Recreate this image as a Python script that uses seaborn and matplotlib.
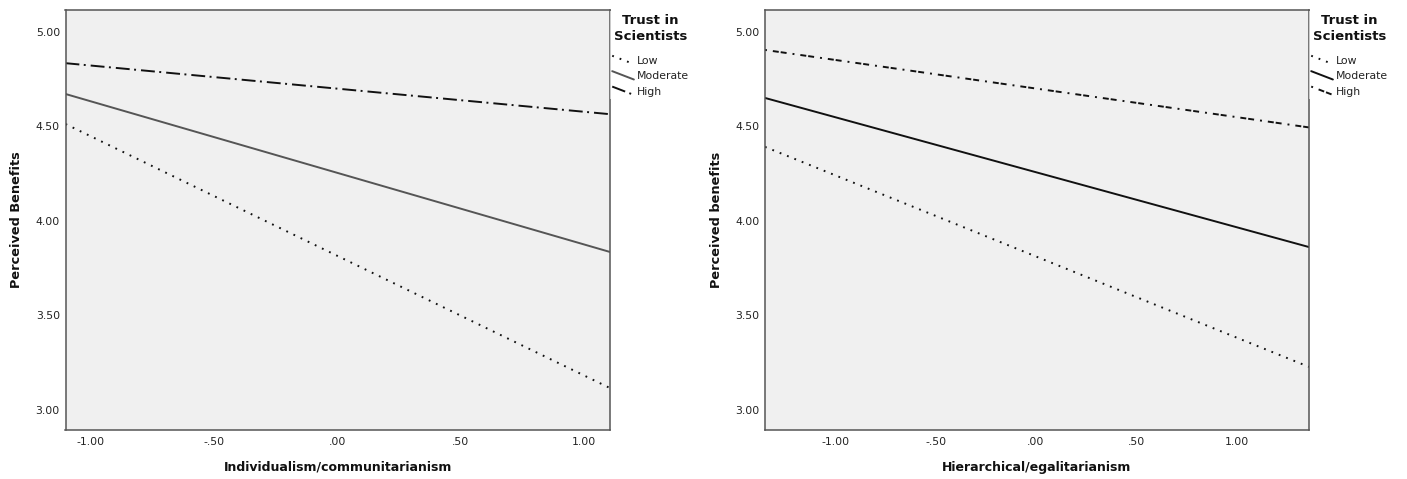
import matplotlib
matplotlib.use("Agg")
import matplotlib.pyplot as plt
from matplotlib.legend_handler import HandlerBase
from matplotlib.lines import Line2D
import seaborn as sns
import pandas as pd

# ---- data ----
groups = ["Low", "Moderate", "High"]

left_x = [-1.10, 1.105]
left_low = [4.513, 3.116]
left_moderate = [4.672, 3.836]
left_high = [4.835, 4.565]

right_x = [-1.35, 1.36]
right_low = [4.392, 3.228]
right_moderate = [4.651, 3.862]
right_high = [4.905, 4.495]

x_ticks = [-1.0, -0.5, 0.0, 0.5, 1.0]
x_tick_labels = ["-1.00", "-.50", ".00", ".50", "1.00"]
y_ticks = [3.0, 3.5, 4.0, 4.5, 5.0]
y_tick_labels = ["3.00", "3.50", "4.00", "4.50", "5.00"]

left_xlabel = "Individualism/communitarianism"
left_ylabel = "Perceived Benefits"
right_xlabel = "Hierarchical/egalitarianism"
right_ylabel = "Perceived benefits"
legend_title = "Trust in\nScientists"


def make_df(xs, low, mod, high):
    rows = []
    for g, ys in zip(groups, [low, mod, high]):
        for x, y in zip(xs, ys):
            rows.append({"x": x, "y": y, "Trust": g})
    return pd.DataFrame(rows)


df_left = make_df(left_x, left_low, left_moderate, left_high)
df_right = make_df(right_x, right_low, right_moderate, right_high)

sns.set_style("white")
plt.rcParams["font.family"] = ["DejaVu Sans"]
plt.rcParams["lines.scale_dashes"] = False

fig = plt.figure(figsize=(14.07, 4.79), dpi=100)
W, H = 1407.0, 479.0
ax1 = fig.add_axes([65.5 / W, 49 / H, 544.5 / W, 420.5 / H])
ax2 = fig.add_axes([765 / W, 49 / H, 544 / W, 420.5 / H])

dots = (1.3, 4.4)
left_dashes = {"Low": dots, "Moderate": "", "High": (10.0, 3.2, 1.4, 3.6)}
right_dashes = {"Low": dots, "Moderate": "", "High": (1.4, 4.3, 4.3, 1.4, 4.3, 4.3)}
left_pal = {"Low": "#111111", "Moderate": "#555555", "High": "#111111"}
right_pal = {"Low": "#111111", "Moderate": "#111111", "High": "#111111"}

for ax, df, dashes, pal, xs, xl, yl, ylc in [
    (ax1, df_left, left_dashes, left_pal, left_x, left_xlabel, left_ylabel, -0.078),
    (ax2, df_right, right_dashes, right_pal, right_x, right_xlabel, right_ylabel, -0.077),
]:
    sns.lineplot(data=df, x="x", y="y", hue="Trust", style="Trust",
                 hue_order=groups, style_order=groups, palette=pal,
                 dashes=dashes, linewidth=1.4, legend=False, ax=ax)
    ax.set_xlim(xs[0], xs[1])
    ax.set_ylim(2.894, 5.119)
    ax.set_facecolor("#f0f0f0")
    ax.set_xticks(x_ticks)
    ax.set_xticklabels(x_tick_labels)
    ax.set_yticks(y_ticks)
    ax.set_yticklabels(y_tick_labels)
    ax.tick_params(axis="both", length=0, labelsize=7.8, colors="#222222")
    ax.tick_params(axis="x", pad=5)
    ax.tick_params(axis="y", pad=4)
    for sp in ax.spines.values():
        sp.set_visible(True)
        sp.set_color("#555555")
        sp.set_linewidth(1.1)
    ax.set_xlabel(xl, fontsize=9, fontweight="bold", color="#111111")
    ax.set_ylabel(yl, fontsize=9.3, fontweight="bold", color="#111111")
    ax.xaxis.set_label_coords(0.5, -0.073)
    ax.yaxis.set_label_coords(ylc, 0.5)
    ax.grid(False)


class SlantHandler(HandlerBase):
    def create_artists(self, legend, orig_handle, xdescent, ydescent,
                       width, height, fontsize, trans):
        x0 = -xdescent
        y0 = -ydescent
        line = Line2D([x0, x0 + width], [y0 + height * 1.05, y0 - height * 0.05])
        line.update_from(orig_handle)
        line.set_clip_on(False)
        line.set_clip_box(None)
        line.set_transform(trans)
        return [line]


for ax, anchor_x in [(ax1, 609.5), (ax2, 1308.5)]:
    handles = ax.get_lines()[:3]
    leg = fig.legend(handles, groups, title=legend_title,
                     loc="upper left",
                     bbox_to_anchor=(anchor_x / W, 1 - 11 / H),
                     handler_map={Line2D: SlantHandler()},
                     fontsize=7.8, title_fontsize=9.5,
                     handlelength=2.0, handleheight=0.7, handletextpad=0.25,
                     labelspacing=0.5, borderpad=0.25, borderaxespad=0,
                     frameon=True, facecolor="white", edgecolor="none",
                     framealpha=0.6, fancybox=False)
    t = leg.get_title()
    t.set_fontweight("bold")
    t.set_color("#111111")
    t.set_linespacing(1.28)
    t.set_multialignment("center")
    leg._legend_box.sep = 9.5
    for tx in leg.get_texts():
        tx.set_color("#222222")

fig.savefig("out.png", dpi=100)
